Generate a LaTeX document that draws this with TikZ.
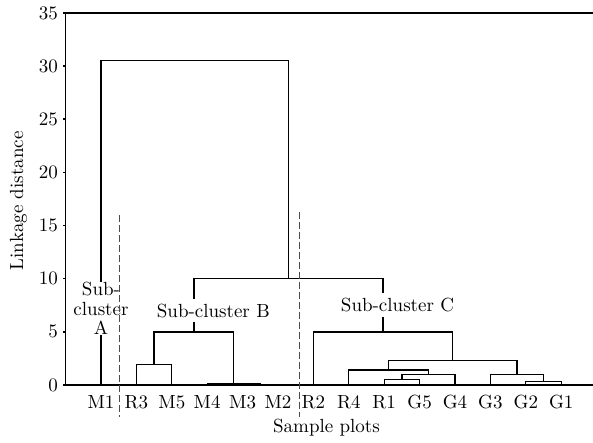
\documentclass[tikz,border=0pt]{standalone}
\usepackage{fontspec}
\setmainfont{lmroman10-regular.otf}
\begin{document}
\begin{tikzpicture}[x=1pt,y=1pt,
  every node/.style={font=\fontsize{19}{19.5}\selectfont, inner sep=0pt},
  link/.style={line width=1.3pt},
  axisline/.style={line width=1.5pt},
  sepline/.style={line width=1.3pt, black!70, dash pattern=on 7pt off 3pt},
  clab/.style={fill=white, anchor=base, inner xsep=1pt, inner ysep=5pt}]
\useasboundingbox (0,0) rectangle (593,442);
\begin{scope}[shift={(65.6pt,57pt)}, x=35.4pt, y=10.63pt]
  % leaves
  \foreach \n/\i in {M1/1,R3/2,M5/3,M4/4,M3/5,M2/6,R2/7,R4/8,R1/9,G5/10,G4/11,G3/12,G2/13,G1/14}{
    \coordinate (\n) at (\i,0);
    \node[anchor=base, yshift=-23.3pt] (t\n) at (\i,0) {\n};
  }
  % merge points
  \coordinate (a) at (2.5,1.95);
  \coordinate (b) at (5.5,0.05);
  \coordinate (c) at (4.75,0.13);
  \coordinate (B) at (3.625,5);
  \coordinate (d) at (9.5,0.55);
  \coordinate (e) at (10.25,0.97);
  \coordinate (f) at (9.125,1.41);
  \coordinate (g) at (13.5,0.36);
  \coordinate (h) at (12.75,0.99);
  \coordinate (i) at (10.9375,2.29);
  \coordinate (C) at (8.96875,5);
  \coordinate (BC) at (6.296875,10);
  \coordinate (top) at (3.6484375,30.5);
  % dendrogram
  \draw[link] (R3) |- (a) -| (M5);
  \draw[link] (M3) |- (b) -| (M2);
  \draw[link] (M4) |- (c) -| (b);
  \draw[link] (a) |- (B) -| (c);
  \draw[link] (R1) |- (d) -| (G5);
  \draw[link] (d) |- (e) -| (G4);
  \draw[link] (R4) |- (f) -| (e);
  \draw[link] (G2) |- (g) -| (G1);
  \draw[link] (G3) |- (h) -| (g);
  \draw[link] (f) |- (i) -| (h);
  \draw[link] (R2) |- (C) -| (i);
  \draw[link] (B) |- (BC) -| (C);
  \draw[link] (M1) |- (top) -| (BC);
  % axes
  \coordinate (o) at (0,0);
  \coordinate (xr) at (14.9,0);
  \coordinate (yt) at (0,35);
  \coordinate (tr) at (14.9,35);
  \draw[axisline] (xr) -- (o) -- (yt) -- (tr);
  \foreach \v in {0,5,...,35}{
    \draw[axisline] (0,\v) -- ++(-2.5pt,0);
    \node[anchor=east, xshift=-7.5pt] (ty\v) at (0,\v) {\v};
  }
\end{scope}
% axis titles
\node[anchor=base] (xlab) at (326.5,10) {Sample plots};
\node[rotate=90] (ylab) at (18.5,241) {Linkage distance};
% cluster labels
\node[fill=white, align=center] (labA) at (101,133.6) {Sub-\\cluster\\A};
\node[clab] (labB) at (213.3,125) {Sub-cluster B};
\node[clab] (labC) at (397.5,130.5) {Sub-cluster C};
% separators
\coordinate (s1t) at (119.3,227);
\coordinate (s1b) at (119.3,25);
\coordinate (s2t) at (299.3,230.3);
\coordinate (s2b) at (299.3,25);
\draw[sepline] (s1t) -- (s1b);
\draw[sepline] (s2t) -- (s2b);
\end{tikzpicture}
\end{document}
